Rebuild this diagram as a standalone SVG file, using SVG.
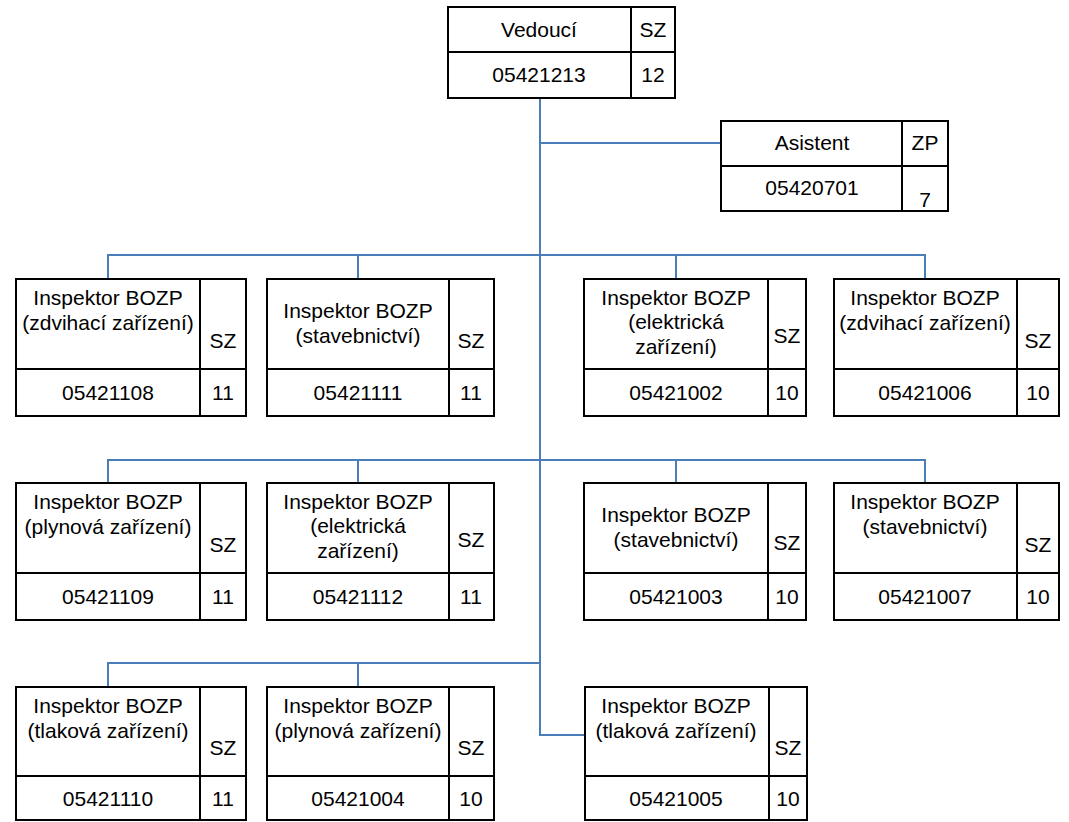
<svg xmlns="http://www.w3.org/2000/svg" width="1069" height="822" viewBox="0 0 1069 822">
<style>
.box{fill:#fff;stroke:#000;stroke-width:2}
.ln{stroke:#000;stroke-width:2;fill:none}
.con{stroke:#4a7ebb;stroke-width:2;fill:none}
text{font-family:"Liberation Sans",Arial,sans-serif;font-size:21px;text-anchor:middle;fill:#000}
</style>
<rect width="1069" height="822" fill="#fff"/>
<g id="connectors">
<path class="con" d="M540,98 V735 H585"/>
<path class="con" d="M540,143 H721"/>
<path class="con" d="M108,279 V255 H925 V279 M358,255 V279 M676,255 V279"/>
<path class="con" d="M108,483 V460 H925 V483 M358,460 V483 M676,460 V483"/>
<path class="con" d="M108,687 V663 H540 M358,663 V687"/>
</g>
<g id="vedouci">
<rect class="box" x="448" y="7" width="227" height="91"/>
<path class="ln" d="M448,52 H675 M631,7 V98"/>
<text x="539" y="37">Vedoucí</text><text x="653" y="37">SZ</text>
<text x="539" y="82">05421213</text><text x="653" y="82">12</text>
</g>
<g id="asistent">
<rect class="box" x="721" y="121" width="227" height="90"/>
<path class="ln" d="M721,166 H948 M902,121 V211"/>
<text x="812" y="150">Asistent</text><text x="925" y="150">ZP</text>
<text x="812" y="195">05420701</text><text x="925" y="207">7</text>
</g>
<!-- Row 1 -->
<g id="n05421108">
<rect class="box" x="16" y="279" width="230" height="137"/>
<path class="ln" d="M16,369 H246 M200,279 V416"/>
<text x="108" y="305">Inspektor BOZP</text><text x="108" y="330">(zdvihací zařízení)</text>
<text x="223" y="348">SZ</text><text x="108" y="400">05421108</text><text x="223" y="400">11</text>
</g>
<g id="n05421111">
<rect class="box" x="267" y="279" width="227" height="137"/>
<path class="ln" d="M267,369 H494 M449,279 V416"/>
<text x="358" y="318">Inspektor BOZP</text><text x="358" y="343">(stavebnictví)</text>
<text x="471" y="348">SZ</text><text x="358" y="400">05421111</text><text x="471" y="400">11</text>
</g>
<g id="n05421002">
<rect class="box" x="584" y="279" width="222" height="137"/>
<path class="ln" d="M584,369 H806 M768,279 V416"/>
<text x="676" y="305">Inspektor BOZP</text><text x="676" y="329">(elektrická</text><text x="676" y="354">zařízení)</text>
<text x="787" y="343">SZ</text><text x="676" y="400">05421002</text><text x="787" y="400">10</text>
</g>
<g id="n05421006">
<rect class="box" x="834" y="279" width="225" height="137"/>
<path class="ln" d="M834,369 H1059 M1017,279 V416"/>
<text x="925" y="305">Inspektor BOZP</text><text x="925" y="330">(zdvihací zařízení)</text>
<text x="1038" y="348">SZ</text><text x="925" y="400">05421006</text><text x="1038" y="400">10</text>
</g>
<!-- Row 2 -->
<g id="n05421109">
<rect class="box" x="16" y="483" width="230" height="137"/>
<path class="ln" d="M16,573 H246 M200,483 V620"/>
<text x="108" y="509">Inspektor BOZP</text><text x="108" y="534">(plynová zařízení)</text>
<text x="223" y="552">SZ</text><text x="108" y="604">05421109</text><text x="223" y="604">11</text>
</g>
<g id="n05421112">
<rect class="box" x="267" y="483" width="227" height="137"/>
<path class="ln" d="M267,573 H494 M449,483 V620"/>
<text x="358" y="509">Inspektor BOZP</text><text x="358" y="533">(elektrická</text><text x="358" y="558">zařízení)</text>
<text x="471" y="547">SZ</text><text x="358" y="604">05421112</text><text x="471" y="604">11</text>
</g>
<g id="n05421003">
<rect class="box" x="584" y="483" width="222" height="137"/>
<path class="ln" d="M584,573 H806 M768,483 V620"/>
<text x="676" y="522">Inspektor BOZP</text><text x="676" y="547">(stavebnictví)</text>
<text x="787" y="550">SZ</text><text x="676" y="604">05421003</text><text x="787" y="604">10</text>
</g>
<g id="n05421007">
<rect class="box" x="834" y="483" width="225" height="137"/>
<path class="ln" d="M834,573 H1059 M1017,483 V620"/>
<text x="925" y="509">Inspektor BOZP</text><text x="925" y="534">(stavebnictví)</text>
<text x="1038" y="552">SZ</text><text x="925" y="604">05421007</text><text x="1038" y="604">10</text>
</g>
<!-- Row 3 -->
<g id="n05421110">
<rect class="box" x="16" y="687" width="230" height="133"/>
<path class="ln" d="M16,776 H246 M200,687 V820"/>
<text x="108" y="713">Inspektor BOZP</text><text x="108" y="738">(tlaková zařízení)</text>
<text x="223" y="755">SZ</text><text x="108" y="806">05421110</text><text x="223" y="806">11</text>
</g>
<g id="n05421004">
<rect class="box" x="267" y="687" width="227" height="133"/>
<path class="ln" d="M267,776 H494 M449,687 V820"/>
<text x="358" y="713">Inspektor BOZP</text><text x="358" y="738">(plynová zařízení)</text>
<text x="471" y="755">SZ</text><text x="358" y="806">05421004</text><text x="471" y="806">10</text>
</g>
<g id="n05421005">
<rect class="box" x="585" y="687" width="222" height="133"/>
<path class="ln" d="M585,776 H807 M769,687 V820"/>
<text x="676" y="713">Inspektor BOZP</text><text x="676" y="738">(tlaková zařízení)</text>
<text x="788" y="755">SZ</text><text x="676" y="806">05421005</text><text x="788" y="806">10</text>
</g>
</svg>
